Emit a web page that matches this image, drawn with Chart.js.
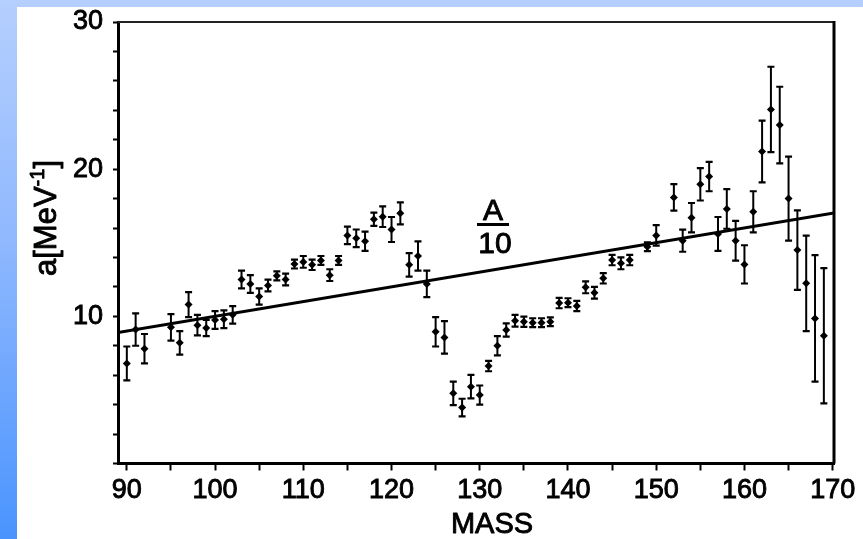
<!DOCTYPE html>
<html><head><meta charset="utf-8">
<script src="https://cdn.jsdelivr.net/npm/chart.js@4.4.1/dist/chart.umd.min.js"></script>
<style>
html,body{margin:0;padding:0;width:863px;height:539px;overflow:hidden;}
body{background:linear-gradient(to bottom,#b5cffe 0%,#8fb8fe 45%,#4a94fe 100%);}
#wrap{position:absolute;left:17px;top:7px;width:846px;height:532px;background:#fff;}
canvas{display:block;}
</style></head><body>
<div id="wrap"><canvas id="c" width="846" height="532"></canvas></div>
<script>
// ---- data ----
const mass = [90,91,92,95,96,97,98,99,100,101,102,103,104,105,106,107,108,109,110,111,112,113,114,115,116,117,118,119,120,121,122,123,124,125,126,127,128,129,130,131,132,133,134,135,136,137,138,139,140,141,142,143,144,145,146,147,149,150,152,153,154,155,156,157,158,159,160,161,162,163,164,165,166,167,168,169];
const aValue = [6.8,9.1,7.8,9.25,8.2,10.8,9.4,9.2,9.75,9.8,10.1,12.5,12.2,11.35,12.1,12.75,12.5,13.55,13.7,13.5,13.8,12.8,13.8,15.5,15.3,15.1,16.6,16.77,15.9,17.0,13.5,14.1,12.2,8.95,8.57,4.77,3.8,5.22,4.65,6.62,8.0,9.07,9.7,9.63,9.57,9.57,9.63,10.9,10.93,10.7,11.97,11.6,12.58,13.82,13.6,13.82,14.73,15.5,18.08,15.14,16.7,18.97,19.5,15.6,17.3,15.14,13.53,17.1,21.2,24.06,23.0,18.0,14.5,12.24,9.86,8.68];
const aError = [1.15,1.1,1.0,0.9,0.8,0.85,0.7,0.55,0.6,0.6,0.6,0.6,0.6,0.55,0.4,0.3,0.4,0.3,0.4,0.35,0.3,0.4,0.3,0.6,0.6,0.65,0.45,0.7,0.85,0.75,0.8,1.0,0.9,1.0,1.1,0.8,0.6,0.8,0.65,0.35,0.65,0.45,0.4,0.35,0.3,0.3,0.3,0.35,0.3,0.35,0.4,0.4,0.35,0.35,0.4,0.35,0.3,0.7,0.9,0.75,1.0,1.1,1.0,1.15,1.35,1.35,1.3,1.4,2.1,2.9,2.6,2.85,2.7,3.25,4.3,4.6];
const lineMass = [89, 170.15];
const lineA10 = [8.90, 17.02];
const xTickValues = [90,95,100,105,110,115,120,125,130,135,140,145,150,155,160,165,170];
const yLabelValues = [10,20,30];

const FONT = "'Liberation Sans', Arial, sans-serif";

function heavyText(ctx, txt, x, y) {
  ctx.fillText(txt, x, y);
  ctx.strokeText(txt, x, y);
}

const errorBars = {
  id: 'errorBars',
  afterDatasetsDraw(chart) {
    const {ctx, scales:{x, y}} = chart;
    ctx.save();
    ctx.strokeStyle = '#000';
    for (let i = 0; i < mass.length; i++) {
      const px = x.getPixelForValue(mass[i]);
      const yt = y.getPixelForValue(aValue[i] + aError[i]);
      const yb = y.getPixelForValue(aValue[i] - aError[i]);
      ctx.lineWidth = 2;
      ctx.beginPath(); ctx.moveTo(px, yt); ctx.lineTo(px, yb); ctx.stroke();
      ctx.lineWidth = 2.2;
      ctx.beginPath();
      ctx.moveTo(px - 3.5, yt); ctx.lineTo(px + 3.5, yt);
      ctx.moveTo(px - 3.5, yb); ctx.lineTo(px + 3.5, yb);
      ctx.stroke();
    }
    ctx.restore();
  }
};

const frameAndText = {
  id: 'frameAndText',
  afterDraw(chart) {
    const {ctx, chartArea:ca} = chart;
    ctx.save();
    ctx.strokeStyle = '#222';
    ctx.lineWidth = 2;
    ctx.beginPath(); ctx.moveTo(ca.left, ca.top); ctx.lineTo(ca.right, ca.top); ctx.stroke();
    ctx.strokeStyle = '#000';
    ctx.lineWidth = 3;
    ctx.beginPath(); ctx.moveTo(ca.right, ca.top - 1); ctx.lineTo(ca.right, ca.bottom); ctx.stroke();

    ctx.fillStyle = '#000';
    ctx.strokeStyle = '#000';
    ctx.lineWidth = 0.9;
    ctx.lineJoin = 'round';
    ctx.font = '29px ' + FONT;
    ctx.textAlign = 'center';
    ctx.textBaseline = 'alphabetic';
    heavyText(ctx, 'MASS', 475, 526);

    ctx.save();
    ctx.translate(39, 211);
    ctx.rotate(-Math.PI / 2);
    ctx.textAlign = 'left';
    const big = '31px ' + FONT, small = '20px ' + FONT;
    ctx.font = big; const w1 = ctx.measureText('a[MeV').width; const w3 = ctx.measureText(']').width;
    ctx.font = small; const w2 = ctx.measureText('-1').width;
    let sx = -(w1 + w2 + w3) / 2;
    ctx.font = big; heavyText(ctx, 'a[MeV', sx, 0); sx += w1;
    ctx.font = small; heavyText(ctx, '-1', sx, -12); sx += w2;
    ctx.font = big; heavyText(ctx, ']', sx, 0);
    ctx.restore();

    ctx.font = '30px ' + FONT;
    ctx.textAlign = 'center';
    heavyText(ctx, 'A', 476, 213);
    heavyText(ctx, '10', 478, 246);
    ctx.lineWidth = 3;
    ctx.beginPath(); ctx.moveTo(460, 217.5); ctx.lineTo(492, 217.5); ctx.stroke();
    ctx.restore();
  }
};

new Chart(document.getElementById('c'), {
  type: 'scatter',
  data: {
    datasets: [
      {
        type: 'line',
        data: lineMass.map((m, i) => ({x: m, y: lineA10[i]})),
        borderColor: '#000', borderWidth: 3, pointRadius: 0, fill: false
      },
      {
        data: mass.map((m, i) => ({x: m, y: aValue[i]})),
        backgroundColor: '#000', borderColor: '#000',
        pointStyle: 'rectRot', pointRadius: 4, borderWidth: 0
      }
    ]
  },
  options: {
    responsive: false, animation: false,
    layout: {padding: {left: 0, right: 29, top: 15, bottom: 0}},
    plugins: {legend: {display: false}, tooltip: {enabled: false}},
    scales: {
      x: {
        type: 'linear', min: 89, max: 170.15,
        afterBuildTicks: s => { s.ticks = xTickValues.map(v => ({value: v})); },
        afterFit: s => { s.height = 75.5; s.paddingLeft = 0; s.paddingRight = 0; },
        ticks: {
          autoSkip: false, maxRotation: 0, padding: 7, color: '#000',
          textStrokeColor: '#000', textStrokeWidth: 0.9,
          font: {family: FONT, size: 27, lineHeight: 1},
          callback: v => (v % 10 === 0 ? String(v) : '')
        },
        grid: {drawOnChartArea: false, drawTicks: true, tickLength: 7, tickWidth: 2, tickColor: '#000'},
        border: {display: true, color: '#000', width: 3}
      },
      y: {
        type: 'linear', min: 0, max: 30,
        afterFit: s => { s.width = 101; s.paddingTop = 0; s.paddingBottom = 0; },
        ticks: {
          stepSize: 2, autoSkip: false, padding: 10, color: '#000',
          textStrokeColor: '#000', textStrokeWidth: 0.9,
          font: {family: FONT, size: 27, lineHeight: 1},
          callback: v => (yLabelValues.includes(v) ? String(v) : '')
        },
        grid: {drawOnChartArea: false, drawTicks: true, tickLength: 5, tickWidth: 2, tickColor: '#000'},
        border: {display: true, color: '#000', width: 3}
      }
    }
  },
  plugins: [errorBars, frameAndText]
});
</script>
</body></html>
